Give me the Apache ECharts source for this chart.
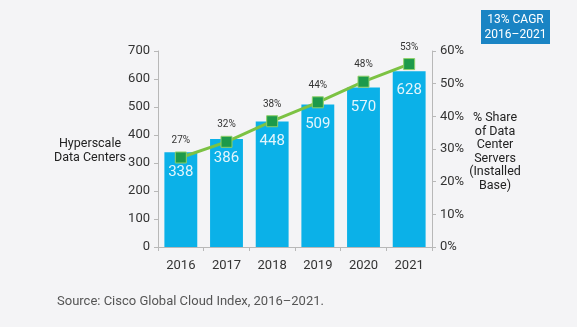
<!DOCTYPE html>
<html><head><meta charset="utf-8">
<script src="https://cdn.jsdelivr.net/npm/echarts@6/dist/echarts.min.js"></script>
<style>html,body{margin:0;padding:0;background:#f4f4f6}#c{width:577px;height:327px}</style>
</head><body><div id="c"></div>
<script>
const years = ['2016','2017','2018','2019','2020','2021'];
const hyperscale = [338, 386, 448, 509, 570, 628];
const sharePlotted = [27.4, 32.2, 38.5, 44.3, 50.6, 56];
const shareLabels = ['27%','32%','38%','44%','48%','53%'];
const leftTicks = [0,100,200,300,400,500,600,700];
const rightTicks = ['0%','10%','20%','30%','40%','50%','60%'];

const FONT = 'Roboto, "Liberation Sans", sans-serif';
const chart = echarts.init(document.getElementById('c'), null, {renderer:'canvas'});
chart.setOption({
  backgroundColor: '#f4f4f6',
  textStyle: {fontFamily: FONT},
  grid: {left: 158, right: 145, top: 51, bottom: 80},
  xAxis: {
    type: 'category', data: years,
    axisLine: {lineStyle: {color: '#b8b8b8'}},
    axisTick: {show: true, lineStyle: {color: '#b8b8b8'}, length: 4},
    axisLabel: {color: '#333', fontSize: 13, margin: 12, fontFamily: FONT}
  },
  yAxis: [{
    type: 'value', min: 0, max: leftTicks[leftTicks.length-1], interval: 100,
    axisLine: {show: true, lineStyle: {color: '#b8b8b8'}},
    axisTick: {show: true, length: 4, lineStyle: {color: '#b8b8b8'}},
    splitLine: {show: false},
    axisLabel: {color: '#333', fontSize: 13, margin: 8, fontFamily: FONT}
  }, {
    type: 'value', min: 0, max: 60, interval: 10, position: 'right',
    axisLine: {show: true, lineStyle: {color: '#b8b8b8'}},
    axisTick: {show: true, length: 4, lineStyle: {color: '#b8b8b8'}},
    splitLine: {show: false},
    axisLabel: {color: '#333', fontSize: 13, margin: 8, fontFamily: FONT,
      formatter: v => rightTicks[Math.round(v/10)]}
  }],
  series: [{
    type: 'bar', data: hyperscale, barWidth: '72%',
    itemStyle: {color: '#0bb1e8'},
    label: {show: true, position: 'insideTop', distance: 12, color: '#e3f5fc', fontSize: 15, fontFamily: FONT}
  }, {
    type: 'line', yAxisIndex: 1, data: sharePlotted,
    symbol: 'rect', symbolSize: 11,
    lineStyle: {color: '#7cc243', width: 3},
    itemStyle: {color: '#1d9a4a', borderColor: '#8fd06a', borderWidth: 1},
    label: {show: true, position: 'top', distance: 6, color: '#333', fontSize: 10, fontFamily: FONT,
      formatter: p => shareLabels[p.dataIndex]},
    z: 5
  }],
  graphic: [
    {type: 'text', x: 90, y: 151, style: {text: 'Hyperscale\nData Centers', fill: '#222', font: '12.5px ' + FONT, textAlign: 'center', textVerticalAlign: 'middle', lineHeight: 14}},
    {type: 'text', x: 495, y: 152, style: {text: '% Share\nof Data\nCenter\nServers\n(Installed\nBase)', fill: '#222', font: '12.5px ' + FONT, textAlign: 'center', textVerticalAlign: 'middle', lineHeight: 13.5}},
    {type: 'rect', shape: {x: 481, y: 10, width: 69, height: 34}, style: {fill: '#1a84c4'}},
    {type: 'text', x: 515.5, y: 27, style: {text: '13% CAGR\n2016–2021', fill: '#fff', font: '12px ' + FONT, textAlign: 'center', textVerticalAlign: 'middle', lineHeight: 15}},
    {type: 'text', x: 57, y: 302, style: {text: 'Source: Cisco Global Cloud Index, 2016–2021.', fill: '#555', font: '13px ' + FONT, textVerticalAlign: 'middle'}}
  ]
});
</script></body></html>
